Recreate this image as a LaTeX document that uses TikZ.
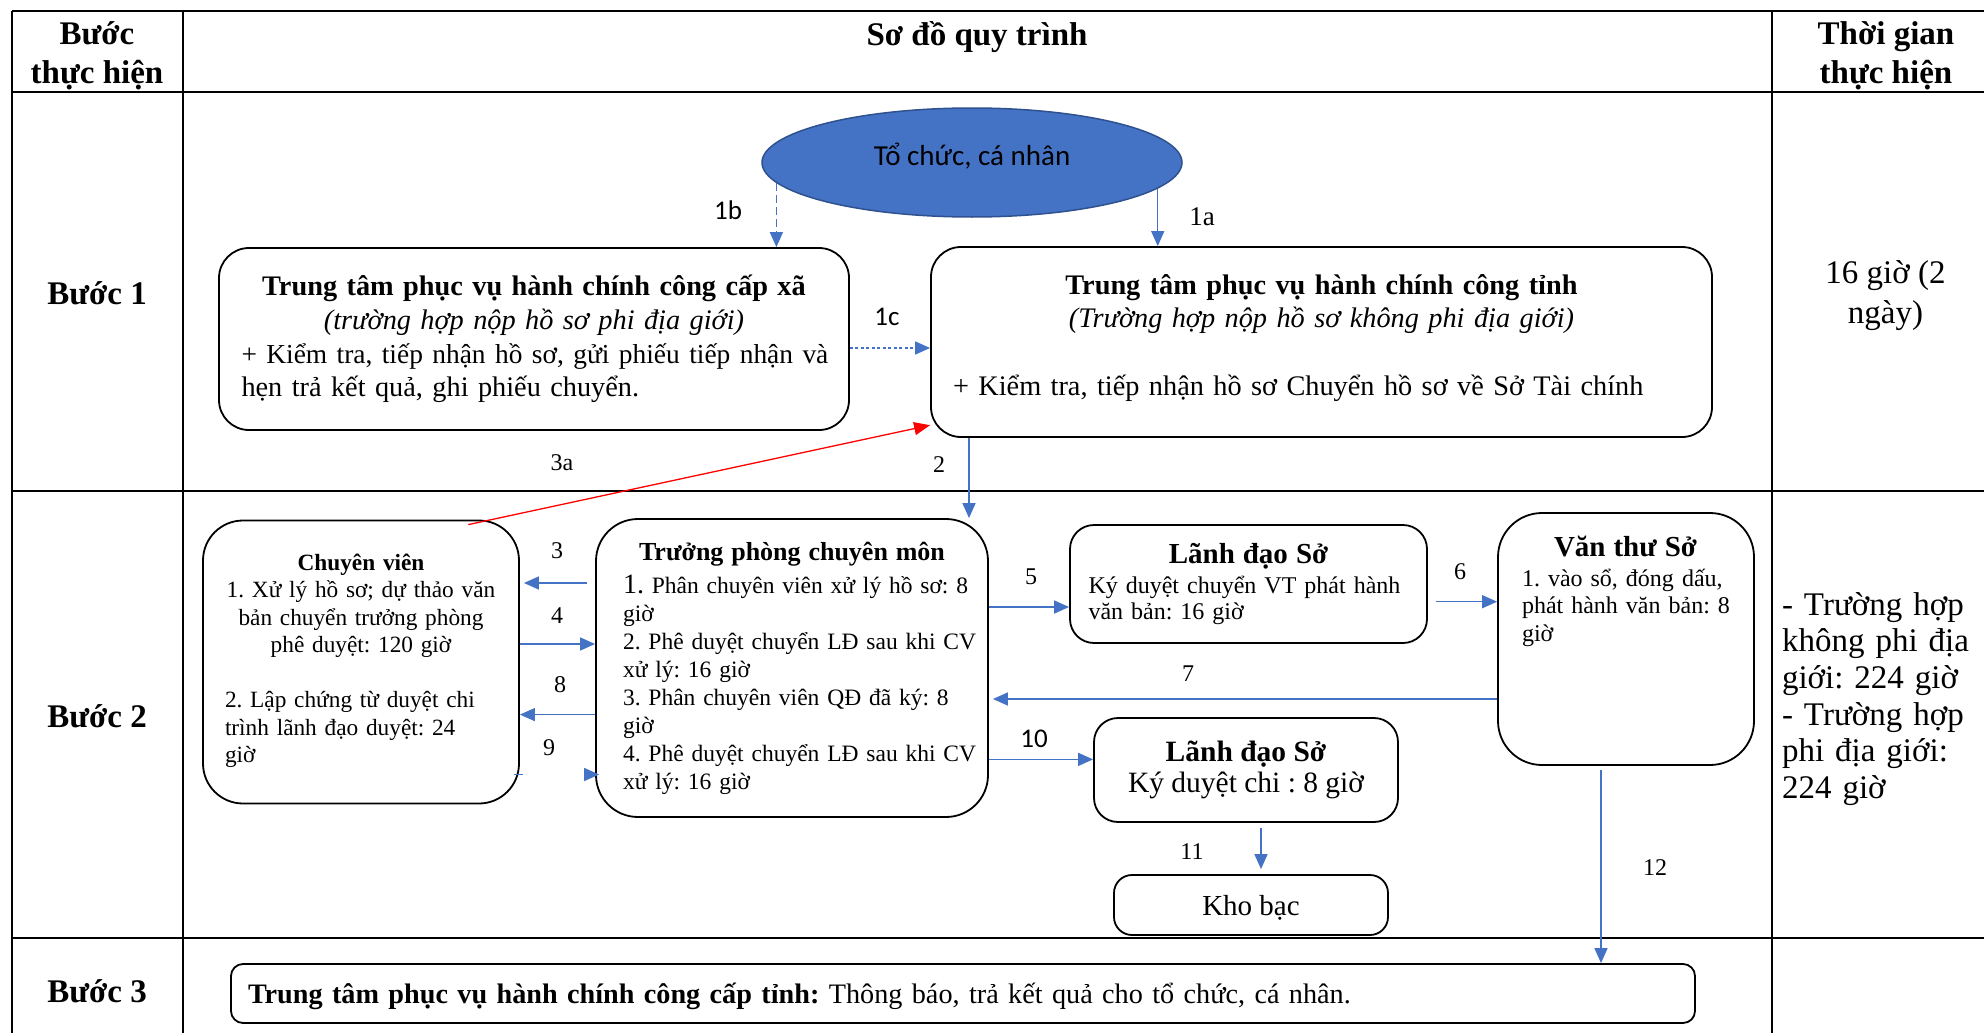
\documentclass[tikz,border=0pt]{standalone}
\usepackage{fontspec}
\setmainfont{Liberation Serif}
\newfontfamily\calibri{Carlito}
\usetikzlibrary{arrows.meta,shapes.geometric}
\frenchspacing

\definecolor{wordblue}{HTML}{4472C4}
\definecolor{wordedge}{HTML}{2F528F}

\newcommand{\fsz}[2]{\fontsize{#1}{#2}\selectfont}
\newcommand{\jrow}[1]{\makebox[\hsize][s]{#1}}
\newcommand{\lrow}[1]{\makebox[\hsize][l]{#1}}

\begin{document}
\begin{tikzpicture}[x=1pt,y=-1pt,
  grid/.style={line width=2.2pt},
  rbox/.style={draw,line width=1.8pt,rounded corners=#1,inner sep=0pt},
  rbox/.default=30pt,
  cell/.style={font=\fsz{33}{39}\bfseries,align=center,inner sep=0pt},
  flow/.style={-{Triangle[length=15pt,width=13pt]},draw=wordblue,line width=1.5pt},
  num/.style={font=\fsz{24}{24},inner sep=0pt},
  snum/.style={font=\calibri\fsz{27}{27},inner sep=0pt}]
\useasboundingbox (0,0) rectangle (1984,1033);
\clip (0,0) rectangle (1984,1033);

% table
\foreach \yy in {11,92,491,938} \draw[grid] (12,\yy) -- (2010,\yy);
\foreach \xx in {12,183,1772} \draw[grid] (\xx,11) -- (\xx,1045);

\node[cell] (hstep) at (97,56) {Bước\\thực hiện};
\node[cell,anchor=base] (hflow) at (977,45.5) {Sơ đồ quy trình};
\node[cell] (htime) at (1886,56) {Thời gian\\thực hiện};
\node[cell,anchor=base] (b1) at (97,304) {Bước 1};
\node[cell,anchor=base] (b2) at (97,727) {Bước 2};
\node[cell,anchor=base] (b3) at (97,1002) {Bước 3};

\node[font=\fsz{33}{40},align=center,inner sep=0pt] (t1) at (1885.5,296) {16 giờ (2\\ngày)};
\node[font=\fsz{33}{36.7},text width=203pt,align=left,inner sep=0pt] (t2) at (1883.5,699) {\jrow{- Trường hợp}\\\jrow{không phi địa}\\giới: 224 giờ\\\jrow{- Trường hợp}\\\jrow{phi địa giới:}\\224 giờ};

% step 1
\node[ellipse,draw=wordedge,fill=wordblue,line width=1.5pt,minimum width=420pt,minimum height=109pt,text depth=17pt,font=\calibri\fsz{29}{29}] (org) at (972,162.5) {Tổ chức, cá nhân};

\node[rbox,minimum width=630pt,minimum height=182pt,text width=585pt,align=center,font=\fsz{28.3}{33.7}] (xa) at (534,339)
  {\textbf{Trung tâm phục vụ hành chính công cấp xã}\\\textit{(trường hợp nộp hồ sơ phi địa giới)}\\\jrow{\fsz{27.4}{33.7}+ Kiểm tra, tiếp nhận hồ sơ, gửi phiếu tiếp nhận và}\\\lrow{hẹn trả kết quả, ghi phiếu chuyển.}};
\node[rbox,minimum width=781pt,minimum height=190pt,text width=737pt,align=center,font=\fsz{28.3}{33.5}] (tinh) at (1321.5,342)
  {\textbf{Trung tâm phục vụ hành chính công tỉnh}\\\textit{(Trường hợp nộp hồ sơ không phi địa giới)}\\[34pt]\lrow{+ Kiểm tra, tiếp nhận hồ sơ Chuyển hồ sơ về Sở Tài chính}\\[-19pt]\mbox{}};

% step 2
\node[rbox=40pt,minimum width=316pt,minimum height=283pt,text width=272pt,align=center,font=\fsz{23.3}{27.5}] (cv) at (361,662)
  {{\bfseries Chuyên viên}\\1. Xử lý hồ sơ; dự thảo văn\\bản chuyển trưởng phòng\\phê duyệt: 120 giờ\\[27.5pt]\lrow{2. Lập chứng từ duyệt chi}\\\lrow{trình lãnh đạo duyệt: 24}\\\lrow{giờ}\\[-20pt]\mbox{}};
\node[rbox=42pt,minimum width=392pt,minimum height=298pt,text width=338pt,align=center,font=\fsz{23.5}{28}] (tp) at (792,668)
  {{\fsz{26}{28}\bfseries Trưởng phòng chuyên môn}\\[5pt]\jrow{{\fsz{28}{28}1.} Phân chuyên viên xử lý hồ sơ: 8}\\\lrow{giờ}\\\jrow{2. Phê duyệt chuyển LĐ sau khi CV}\\\lrow{xử lý: 16 giờ}\\\jrow{3. Phân chuyên viên QĐ đã ký: 8}\\\lrow{giờ}\\\jrow{4. Phê duyệt chuyển LĐ sau khi CV}\\\lrow{xử lý: 16 giờ}};
\node[rbox=24pt,minimum width=357pt,minimum height=118pt,text width=320pt,align=center,font=\fsz{24}{26.6}] (ld1) at (1248.5,584)
  {{\fsz{29}{29}\bfseries Lãnh đạo Sở}\\[3pt]\jrow{Ký duyệt chuyển VT phát hành}\\\lrow{văn bản: 16 giờ}};
\node[rbox=44pt,minimum width=256pt,minimum height=252pt] (vt) at (1626,639) {};
\node[anchor=north,inner sep=0pt,text width=207pt,align=center,font=\fsz{24}{27.4}] (vttext) at (1625.5,536)
  {{\fsz{29}{29}\bfseries Văn thư Sở}\\[2.5pt]\jrow{1. vào sổ, đóng dấu,}\\\jrow{phát hành văn bản: 8}\\\lrow{giờ}};
\node[rbox=24pt,minimum width=304pt,minimum height=104pt,align=center,font=\fsz{29.5}{31.6}] (ld2) at (1246,770)
  {\textbf{Lãnh đạo Sở}\\Ký duyệt chi : 8 giờ};
\node[rbox=18pt,minimum width=274pt,minimum height=60pt,text depth=0pt,font=\fsz{29}{29}] (kb) at (1251,905) {Kho bạc};

% step 3
\node[rbox=12pt,minimum width=1464pt,minimum height=59pt,text width=1430pt,inner xsep=17pt,text depth=0pt,align=left,font=\fsz{28.2}{28.2}] (s3) at (963,993.5)
  {\textbf{Trung tâm phục vụ hành chính công cấp tỉnh:} Thông báo, trả kết quả cho tổ chức, cá nhân.};

% connectors
\draw[flow,dash pattern=on 8pt off 4pt] (org.186) -- (org.186 |- xa.north);
\draw[flow] (org.352) -- (org.352 |- tinh.north);
\draw[flow,dash pattern=on 3pt off 2.5pt] (xa.east |- 0,348) -- (tinh.west |- 0,348);
\draw[flow] (tinh.south -| 969,0) -- (tp.north -| 969,0);
\draw[-{Triangle[length=16pt,width=13pt]},red,line width=1.3pt] ([yshift=-5pt]cv.53) -- (tinh.192);
\draw[flow,shorten <=8pt,shorten >=4pt] (tp.west |- 0,583) -- (cv.east |- 0,583);
\draw[flow] (cv.east |- 0,644) -- (tp.west |- 0,644);
\draw[flow] (tp.west |- 0,714.6) -- (cv.east |- 0,714.6);
\draw[flow,dash pattern=on 9pt off 300pt] ([xshift=-6pt]cv.east |- 0,774.5) -- ([xshift=4pt]tp.west |- 0,774.5);
\draw[flow] (tp.east |- 0,607) -- (ld1.west |- 0,607);
\draw[flow,shorten <=8pt] (ld1.east |- 0,601.7) -- (vt.west |- 0,601.7);
\draw[flow] (vt.west |- 0,699) -- ([xshift=4pt]tp.east |- 0,699);
\draw[flow] (tp.east |- 0,759.4) -- (ld2.west |- 0,759.4);
\draw[flow,shorten <=5pt,shorten >=5pt] (ld2.south -| 1261,0) -- (kb.north -| 1261,0);
\draw[flow,shorten <=4pt] (vt.south -| 1601,0) -- (s3.north -| 1601,0);

% labels
\node[snum] (l1b) at (728,210) {1b};
\node[num,font=\fsz{27}{27}] (l1a) at (1202,217) {1a};
\node[snum] (l1c) at (887,317) {1c};
\node[snum] (l10) at (1034,739) {10};
\foreach \t/\xx/\yy in {2/939/465,3a/562/463,3/557/550.5,4/557/615.8,8/560/684.6,9/549/748,
  5/1031/577,6/1460/571.7,7/1188/674,11/1192/852,12/1655/868}
  \node[num] (l\t) at (\xx,\yy) {\t};
\end{tikzpicture}
\end{document}
